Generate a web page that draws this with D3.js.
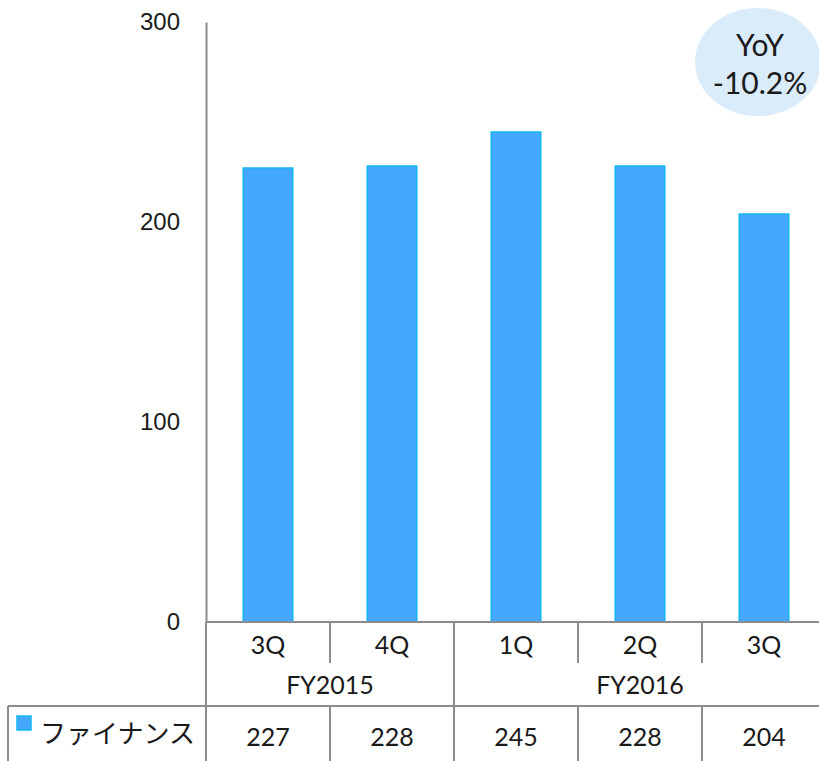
<!DOCTYPE html>
<html><head><meta charset="utf-8">
<script src="https://cdn.jsdelivr.net/npm/d3@7"></script>
<style>body{margin:0;background:#fff}svg{display:block}</style>
</head><body>
<script>
const quarters = ["3Q","4Q","1Q","2Q","3Q"];
const fiscalYears = ["FY2015","FY2015","FY2016","FY2016","FY2016"];
const seriesName = "ファイナンス";
const values = [227,228,245,228,204];
const yTicks = [0,100,200,300];
const yoyLines = ["YoY","-10.2%"];

const W=819,H=761;
const svg=d3.select("body").append("svg").attr("width",W).attr("height",H);
const x0=206, step=124;
const idx=d3.range(values.length);
const x=d3.scaleBand().domain(idx).range([x0,x0+step*values.length]).paddingInner(0.6).paddingOuter(0.3);
const y=d3.scaleLinear().domain([0,300]).range([622,22]);
const gridCol="#8c8c8c";
const txt="#1a1a1a";
const font="Lato, 'Noto Sans', sans-serif";

// bars
svg.selectAll("rect.bar").data(values).join("rect").attr("class","bar")
  .attr("x",(d,i)=>x(i)).attr("width",x.bandwidth())
  .attr("y",d=>y(d)).attr("height",d=>y(0)-y(d))
  .attr("fill","#44A8FF").attr("stroke","#14B6EE").attr("stroke-width",1.5);

// y axis
const ya=svg.append("g").attr("transform",`translate(${x0},0)`)
  .call(d3.axisLeft(y).tickValues(yTicks).tickSize(0).tickPadding(26));
ya.select(".domain").attr("stroke",gridCol).attr("stroke-width",2);
ya.selectAll("text").attr("font-family","'Liberation Sans', Arial, sans-serif").attr("font-size",24).attr("fill",txt);

// baseline and table grid
const line=(x1,y1,x2,y2)=>svg.append("line").attr("x1",x1).attr("y1",y1).attr("x2",x2).attr("y2",y2).attr("stroke",gridCol).attr("stroke-width",2);
const yb=y(0);
line(x0,yb,W,yb);
line(x0,yb,x0,H);
line(8,706,W,706);
line(8,706,8,H);
idx.slice(1).forEach(i=>{
  const bx=x0+step*i;
  if(fiscalYears[i]!==fiscalYears[i-1]) line(bx,yb,bx,H);
  else { line(bx,yb,bx,663); line(bx,706,bx,H); }
});

// quarter labels
svg.selectAll("text.q").data(quarters).join("text").attr("class","q")
  .attr("x",(d,i)=>x(i)+x.bandwidth()/2).attr("y",654)
  .attr("text-anchor","middle").attr("font-family",font).attr("font-size",25).attr("fill",txt).text(d=>d);
// fiscal year labels
const groups=d3.groups(idx,i=>fiscalYears[i]);
groups.forEach(([fy,is])=>{
  const cx=(x0+step*is[0]+x0+step*(is[is.length-1]+1))/2;
  svg.append("text").attr("x",cx).attr("y",694).attr("text-anchor","middle")
    .attr("font-family",font).attr("font-size",25).attr("fill",txt).text(fy);
});
// table values
svg.selectAll("text.v").data(values).join("text").attr("class","v")
  .attr("x",(d,i)=>x(i)+x.bandwidth()/2).attr("y",746)
  .attr("text-anchor","middle").attr("font-family",font).attr("font-size",25).attr("fill",txt).text(d=>d);
// legend
svg.append("rect").attr("x",17).attr("y",716).attr("width",14).attr("height",14)
  .attr("fill","#44A8FF").attr("stroke","#14B6EE").attr("stroke-width",1.5);
svg.append("text").attr("x",40).attr("y",743).attr("font-family","'Noto Sans CJK JP', sans-serif")
  .attr("font-size",26).attr("fill",txt).text(seriesName);

// YoY bubble
svg.append("ellipse").attr("cx",758).attr("cy",62).attr("rx",63).attr("ry",54).attr("fill","#DAEBFA");
svg.selectAll("text.yoy").data(yoyLines).join("text").attr("class","yoy")
  .attr("x",760).attr("y",(d,i)=>56+i*38).attr("text-anchor","middle")
  .attr("font-family",font).attr("font-size",30).attr("fill",txt).text(d=>d);
</script>
</body></html>
